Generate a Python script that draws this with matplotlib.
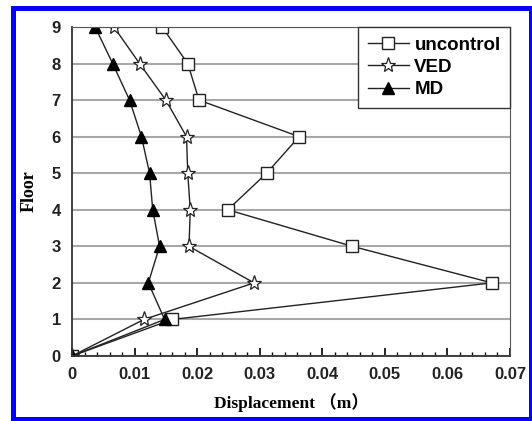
import matplotlib.pyplot as plt
from matplotlib.patches import Rectangle
from matplotlib.ticker import MultipleLocator

floors = [0, 1, 2, 3, 4, 5, 6, 7, 8, 9]
uncontrol = [0.0, 0.0160, 0.0671, 0.0448, 0.0249, 0.0311, 0.0363, 0.0203, 0.0185, 0.0144]
ved = [0.0, 0.0115, 0.0291, 0.0187, 0.0189, 0.0185, 0.0183, 0.0150, 0.0108, 0.0067]
md = [0.0, 0.0148, 0.0122, 0.0140, 0.0129, 0.0124, 0.0111, 0.0092, 0.0065, 0.0037]
xticks = [0, 0.01, 0.02, 0.03, 0.04, 0.05, 0.06, 0.07]
xtick_labels = ["0", "0.01", "0.02", "0.03", "0.04", "0.05", "0.06", "0.07"]

fig = plt.figure(figsize=(5.32, 4.21), dpi=100)
ax = fig.add_axes([72/532, 1-356/421, (510-72)/532, (356-27)/421])

# blue frame round the picture
fig.patches.append(Rectangle((12.5/532, 2/421), 518/532, 411.5/421, transform=fig.transFigure,
                             fill=False, edgecolor="#0000ff", linewidth=3.6))

ax.plot(uncontrol, floors, color="#222222", lw=1.0, marker="s", ms=8,
        mfc="white", mec="#222222", mew=1.0, label="uncontrol")
ax.plot(ved, floors, color="#222222", lw=1.0, marker="*", ms=11,
        mfc="white", mec="#222222", mew=0.9, label="VED")
ax.plot(md, floors, color="#222222", lw=1.0, marker="^", ms=8,
        mfc="black", mec="black", label="MD")

ax.set_xlim(0, 0.07)
ax.set_ylim(0, 9)
ax.set_xticks(xticks)
ax.set_xticklabels(xtick_labels)
ax.set_yticks(floors)
ax.xaxis.set_minor_locator(MultipleLocator(0.002))
ax.tick_params(axis="x", which="major", direction="in", length=6, width=1.2, pad=8)
ax.tick_params(axis="x", which="minor", direction="in", length=3, width=1.0)
ax.tick_params(axis="y", length=0, pad=8)
for lab in ax.get_xticklabels() + ax.get_yticklabels():
    lab.set_fontfamily("Liberation Sans")
    lab.set_fontweight("bold")
    lab.set_fontsize(12)
    lab.set_color("#222222")

ax.grid(axis="y", color="#a8a8a8", lw=1.5)
ax.set_axisbelow(True)
for s in ["top", "right"]:
    ax.spines[s].set_color("#555555")
for s in ["left", "bottom"]:
    ax.spines[s].set_color("#333333")
    ax.spines[s].set_linewidth(1.3)

ax.set_xlabel("Displacement （m）", family=["Liberation Serif", "Noto Sans CJK SC"],
              fontweight="bold", fontsize=12.5, labelpad=8)
ax.set_ylabel("Floor", fontfamily="Liberation Serif", fontweight="bold", fontsize=13, labelpad=10)

leg = ax.legend(loc="upper right", bbox_to_anchor=(1.0, 1.0), fancybox=False, framealpha=1,
                edgecolor="#333333", borderaxespad=0, handlelength=2.2, handletextpad=0.3,
                labelspacing=0.28, borderpad=0.5,
                prop={"family": "Liberation Sans", "weight": "bold", "size": 13.5})
leg.get_frame().set_linewidth(1.0)

fig.savefig("out.png", dpi=100)
